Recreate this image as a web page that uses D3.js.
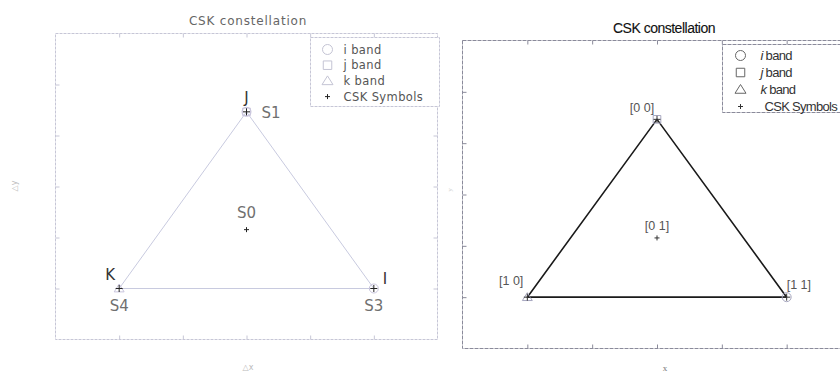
<!DOCTYPE html>
<html>
<head>
<meta charset="utf-8">
<script src="https://cdn.jsdelivr.net/npm/d3@7"></script>
<style>
  html, body { margin: 0; padding: 0; background: #fff; }
  svg { display: block; }
</style>
</head>
<body>
<svg id="chart" width="840" height="373"></svg>
<script>
// Three colour-band vertices of the CSK triangle (i, j, k)
const vertexNames = ["I", "J", "K"];
const vertexShapes = ["circle", "square", "triangle"];
const vertexX = [1, 0, -1];
const vertexY = [0, 1.732, 0];

// CSK symbols: centre plus the three corners
const symbolNames = ["S0", "S1", "S3", "S4"];
const symbolBits = ["[0 1]", "[0 0]", "[1 1]", "[1 0]"];
const symbolX = [0, 0, 1, -1];
const symbolY = [0.577, 1.732, 0, 0];

// Legend entries
const legendLabels = ["i band", "j band", "k band", "CSK Symbols"];
const legendShapes = ["circle", "square", "triangle", "plus"];

const xTicks = [-1, -0.5, 0, 0.5, 1];
const yTicks = [0, 0.5, 1, 1.5, 2];

const svg = d3.select("#chart");

function shapePath(shape, size) {
  const s = size;
  if (shape === "circle") return d3.symbol(d3.symbolCircle, Math.PI * s * s)();
  if (shape === "square") return `M${-s * 0.85},${-s * 0.85}h${s * 1.7}v${s * 1.7}h${-s * 1.7}Z`;
  if (shape === "triangle") return `M0,${-s}L${s * 1.1},${s * 0.75}L${-s * 1.1},${s * 0.75}Z`;
  return `M${-s},0H${s}M0,${-s}V${s}`;
}

function panel(opts) {
  const x = d3.scaleLinear().domain([-1.5, 1.5]).range([opts.x0, opts.x1]);
  const y = d3.scaleLinear().domain([-0.5, 2.5]).range([opts.y1, opts.y0]);
  const g = svg.append("g");

  // frame
  g.append("rect")
    .attr("x", opts.x0).attr("y", opts.y0)
    .attr("width", opts.x1 - opts.x0).attr("height", opts.y1 - opts.y0)
    .attr("fill", "none").attr("stroke", opts.frame).attr("stroke-width", 1)
    .attr("stroke-dasharray", opts.frameDash);

  // inward ticks on all four sides
  const tl = 4;
  const axB = d3.axisBottom(x).tickValues(xTicks).tickSizeInner(-tl).tickSizeOuter(0).tickFormat("");
  const axT = d3.axisTop(x).tickValues(xTicks).tickSizeInner(-tl).tickSizeOuter(0).tickFormat("");
  const axL = d3.axisLeft(y).tickValues(yTicks).tickSizeInner(-tl).tickSizeOuter(0).tickFormat("");
  const axR = d3.axisRight(y).tickValues(yTicks).tickSizeInner(-tl).tickSizeOuter(0).tickFormat("");
  [[axB, `translate(0,${opts.y1})`], [axT, `translate(0,${opts.y0})`],
   [axL, `translate(${opts.x0},0)`], [axR, `translate(${opts.x1},0)`]].forEach(([ax, tr]) => {
    const a = g.append("g").attr("transform", tr).call(ax);
    a.select(".domain").remove();
    a.selectAll("line").attr("stroke", opts.frame);
  });

  // title
  g.append("text").attr("x", opts.titleX).attr("y", opts.titleY)
    .attr("text-anchor", "middle")
    .attr("font-family", opts.titleFont).attr("font-size", opts.titleSize)
    .attr("font-weight", opts.titleWeight).attr("letter-spacing", opts.titleSpacing)
    .attr("fill", opts.titleColor).attr("stroke", opts.titleStroke || "none")
    .attr("stroke-width", 0.12).text("CSK constellation");

  // triangle edges
  const tri = d3.line().x(d => x(vertexX[d])).y(d => y(vertexY[d]));
  g.append("path").attr("d", tri([0, 1, 2, 0]))
    .attr("fill", "none").attr("stroke", opts.lineColor).attr("stroke-width", opts.lineWidth)
    .attr("stroke-linejoin", "round");

  // band markers at the vertices
  g.selectAll(".vm").data(vertexNames).join("path")
    .attr("transform", (d, i) => `translate(${x(vertexX[i])},${y(vertexY[i])})`)
    .attr("d", (d, i) => shapePath(vertexShapes[i], 4.5))
    .attr("fill", "none").attr("stroke", opts.markColor).attr("stroke-width", 1);
  if (opts.extraCircleAtJ) {
    g.append("path").attr("transform", `translate(${x(vertexX[1])},${y(vertexY[1])})`)
      .attr("d", shapePath("circle", 4.5)).attr("fill", "none")
      .attr("stroke", opts.markColor).attr("stroke-width", 1);
  }

  // CSK symbol markers
  g.selectAll(".sm").data(symbolNames).join("path")
    .attr("transform", (d, i) => `translate(${x(symbolX[i])},${y(symbolY[i])})`)
    .attr("d", (d, i) => shapePath("plus", i === 0 ? 2.5 : 3.5))
    .attr("stroke", opts.plusColor).attr("stroke-width", 1);

  // legend
  const lg = g.append("g");
  lg.append("rect").attr("x", opts.lgX).attr("y", opts.lgY)
    .attr("width", opts.lgW).attr("height", opts.lgH)
    .attr("fill", "#fff").attr("stroke", opts.frame).attr("stroke-dasharray", opts.frameDash);
  legendLabels.forEach((lab, i) => {
    const cy = opts.lgY + opts.lgRow0 + i * opts.lgStep;
    lg.append("path").attr("transform", `translate(${opts.lgX + opts.lgMark},${cy})`)
      .attr("d", shapePath(legendShapes[i], legendShapes[i] === "plus" ? 2.5 : 5))
      .attr("fill", "none")
      .attr("stroke", legendShapes[i] === "plus" ? opts.plusColor : opts.legMarkColor)
      .attr("stroke-width", 1);
    const t = lg.append("text").attr("x", opts.lgX + opts.lgText + (i === 3 ? opts.lgLastShift : 0))
      .attr("y", cy + 4)
      .attr("font-family", opts.lgFont).attr("font-size", opts.lgSize)
      .attr("letter-spacing", opts.lgSpacing).attr("fill", opts.lgColor);
    if (opts.italicBand && i < 3) {
      t.append("tspan").attr("font-style", "italic").text(lab.charAt(0));
      t.append("tspan").text(lab.slice(1));
    } else {
      t.text(lab);
    }
  });

  return { x, y, g };
}

// Left: Δx / Δy constellation with vertex and symbol names
const L = panel({
  x0: 55.5, x1: 437.5, y0: 33.5, y1: 339.5,
  frame: "#c6c6d6", frameDash: "3,1",
  titleX: 248, titleY: 25, titleFont: "DejaVu Sans, sans-serif", titleSize: 12,
  titleWeight: "normal", titleSpacing: 0.8, titleColor: "#666",
  lineColor: "#c8cadf", lineWidth: 1, markColor: "#c8c4dc", plusColor: "#222",
  extraCircleAtJ: true,
  lgX: 310.5, lgY: 37.5, lgW: 129, lgH: 69, lgRow0: 12, lgStep: 15.7, lgMark: 17, lgText: 33,
  lgLastShift: 0, lgFont: "DejaVu Sans, sans-serif", lgSize: 11.5, lgSpacing: 0.4,
  lgColor: "#555", legMarkColor: "#c4c4d4", italicBand: false
});

const vOff = { I: [9, -5, "start"], J: [0, -9, "middle"], K: [-9, -9, "middle"] };
L.g.selectAll(".vl").data(vertexNames).join("text")
  .attr("x", (d, i) => L.x(vertexX[i]) + vOff[d][0])
  .attr("y", (d, i) => L.y(vertexY[i]) + vOff[d][1])
  .attr("text-anchor", d => vOff[d][2])
  .attr("font-family", "DejaVu Sans, sans-serif").attr("font-size", 15)
  .attr("fill", "#333").text(d => d);

const sOff = { S0: [0, -12, "middle"], S1: [15, 6, "start"], S3: [0, 22, "middle"], S4: [0, 22, "middle"] };
L.g.selectAll(".sl").data(symbolNames).join("text")
  .attr("x", (d, i) => L.x(symbolX[i]) + sOff[d][0])
  .attr("y", (d, i) => L.y(symbolY[i]) + sOff[d][1])
  .attr("text-anchor", d => sOff[d][2])
  .attr("font-family", "DejaVu Sans, sans-serif").attr("font-size", 15)
  .attr("fill", "#707070").text(d => d);

L.g.append("text").attr("x", 248).attr("y", 370).attr("text-anchor", "middle")
  .attr("font-family", "DejaVu Sans, sans-serif").attr("font-size", 8)
  .attr("fill", "#bbb").text("△x");
L.g.append("text").attr("transform", "translate(17,186) rotate(-90)").attr("text-anchor", "middle")
  .attr("font-family", "DejaVu Sans, sans-serif").attr("font-size", 8)
  .attr("fill", "#bbb").text("△y");

// Right: same constellation labelled with the bit pairs
const R = panel({
  x0: 462.5, x1: 851.5, y0: 40.5, y1: 348.5,
  frame: "#8a8a9a", frameDash: "4,1",
  titleX: 664, titleY: 33, titleFont: "Liberation Sans, Arial, sans-serif", titleSize: 14,
  titleWeight: "normal", titleSpacing: -0.5, titleColor: "#111", titleStroke: "#111",
  lineColor: "#1a1a1a", lineWidth: 1.6, markColor: "#a8a8c0", plusColor: "#333",
  extraCircleAtJ: false,
  lgX: 722.5, lgY: 44.5, lgW: 125, lgH: 68, lgRow0: 11, lgStep: 17, lgMark: 18, lgText: 38,
  lgLastShift: 4, lgFont: "Liberation Sans, Arial, sans-serif", lgSize: 13, lgSpacing: -0.7,
  lgColor: "#333", legMarkColor: "#666", italicBand: true
});

const bOff = [[0, -8, "middle"], [-15, -7, "middle"], [0, -8, "start"], [-4, -12, "end"]];
R.g.selectAll(".bl").data(symbolBits).join("text")
  .attr("x", (d, i) => R.x(symbolX[i]) + bOff[i][0])
  .attr("y", (d, i) => R.y(symbolY[i]) + bOff[i][1])
  .attr("text-anchor", (d, i) => bOff[i][2])
  .attr("font-family", "Liberation Sans, Arial, sans-serif").attr("font-size", 12.5)
  .attr("fill", "#555").text(d => d);

R.g.append("text").attr("x", 665).attr("y", 371).attr("text-anchor", "middle")
  .attr("font-family", "Liberation Serif, serif").attr("font-size", 9)
  .attr("fill", "#777").text("x");
R.g.append("text").attr("transform", "translate(452,190) rotate(-90)").attr("text-anchor", "middle")
  .attr("font-family", "Liberation Serif, serif").attr("font-size", 7)
  .attr("fill", "#ccc").text("y");
</script>
</body>
</html>
